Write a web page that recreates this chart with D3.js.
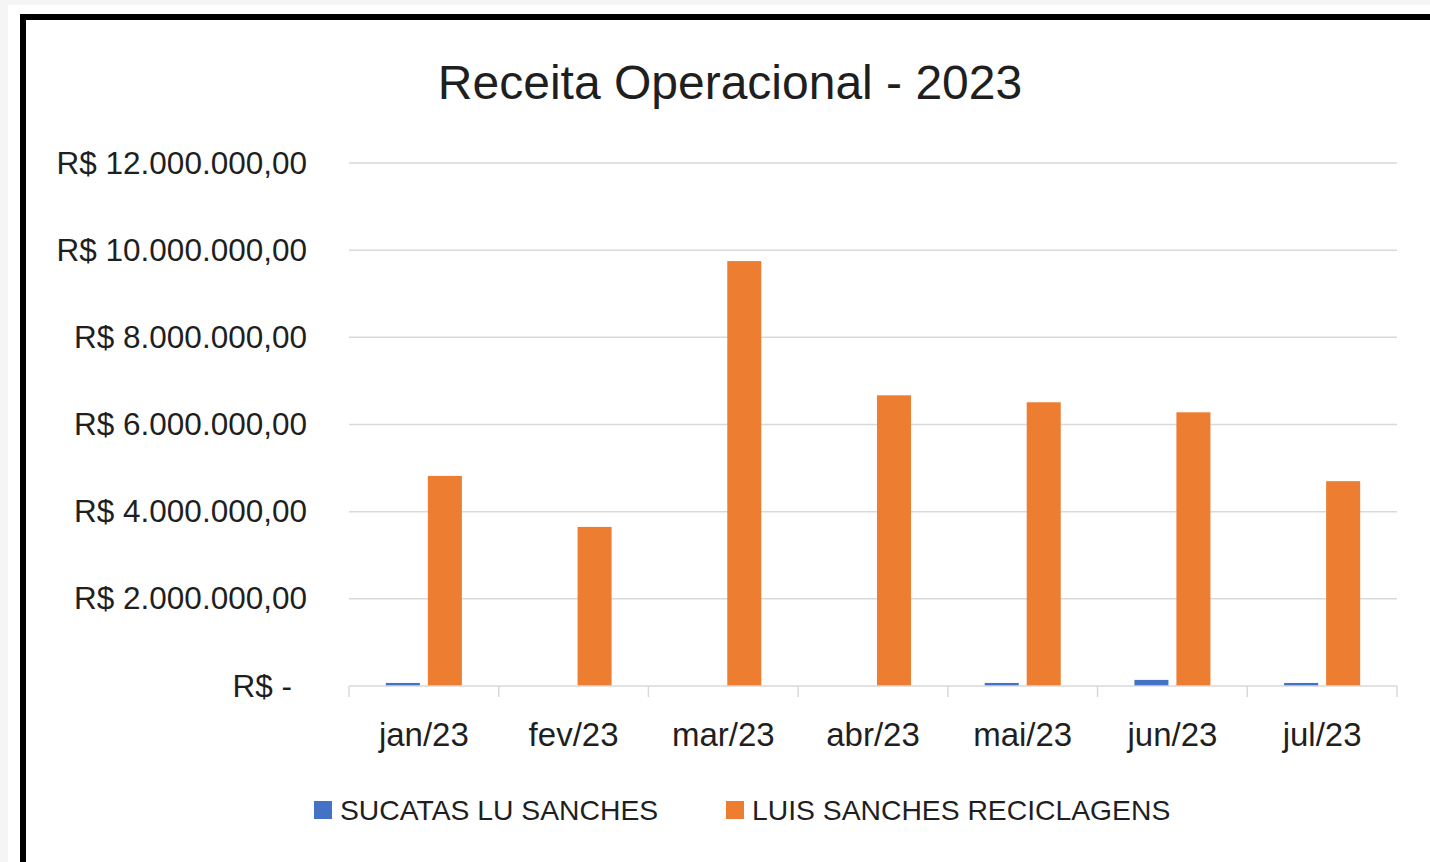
<!DOCTYPE html>
<html>
<head>
<meta charset="utf-8">
<script src="https://cdn.jsdelivr.net/npm/d3@7"></script>
<style>
  html, body { margin: 0; padding: 0; background: #f5f5f5; overflow: hidden; }
  svg { display: block; }
</style>
</head>
<body>
<div id="chart"></div>
<script>
// dados
const meses = ["jan/23", "fev/23", "mar/23", "abr/23", "mai/23", "jun/23", "jul/23"];
const series = ["SUCATAS LU SANCHES", "LUIS SANCHES RECICLAGENS"];
const sucatas = [70000, 0, 0, 0, 70000, 140000, 70000];
const reciclagens = [4820000, 3650000, 9750000, 6670000, 6510000, 6280000, 4700000];
const yTicks = [0, 2000000, 4000000, 6000000, 8000000, 10000000, 12000000];
const cores = ["#4472C4", "#ED7D31"];

const width = 1430;
const height = 862;
const marginTop = 163;
const marginRight = 33;
const marginBottom = 176;
const marginLeft = 349;

const data = meses.map((m, i) => ({ mes: m, valores: [sucatas[i], reciclagens[i]] }));

const locale = d3.formatLocale({ decimal: ",", thousands: ".", grouping: [3], currency: ["R$ ", ""] });
const fmt = locale.format("$,.2f");

const svg = d3.select("#chart")
  .append("svg")
    .attr("width", width)
    .attr("height", height)
    .attr("viewBox", [0, 0, width, height]);

// fundo branco e moldura preta
svg.append("rect")
  .attr("x", 8).attr("y", 5)
  .attr("width", width).attr("height", height)
  .attr("fill", "#fff");
svg.append("rect")
  .attr("x", 23).attr("y", 17)
  .attr("width", width + 20).attr("height", height + 20)
  .attr("fill", "none")
  .attr("stroke", "#000")
  .attr("stroke-width", 6);

const x = d3.scaleBand()
  .domain(meses)
  .range([marginLeft, width - marginRight]);

const xSub = d3.scaleBand()
  .domain(series)
  .range([0, x.bandwidth()])
  .paddingInner(0.19)
  .paddingOuter(0.877);

const y = d3.scaleLinear()
  .domain([0, 12000000])
  .range([height - marginBottom, marginTop]);

const font = "'Liberation Sans', Arial, sans-serif";
const corTexto = "#1f1f1f";

// título
svg.append("text")
  .attr("x", 730)
  .attr("y", 99)
  .attr("text-anchor", "middle")
  .attr("font-family", font)
  .attr("font-size", 48)
  .attr("fill", corTexto)
  .text("Receita Operacional - 2023");

// grade
svg.append("g")
  .selectAll("line")
  .data(yTicks.filter(d => d > 0))
  .join("line")
    .attr("x1", marginLeft)
    .attr("x2", width - marginRight)
    .attr("y1", d => y(d))
    .attr("y2", d => y(d))
    .attr("stroke", "#d9d9d9")
    .attr("stroke-width", 1.5);

// eixo y (somente rótulos)
svg.append("g")
  .attr("transform", `translate(${marginLeft - 42},0)`)
  .call(d3.axisLeft(y).tickValues(yTicks).tickSize(0).tickFormat(d => d === 0 ? "R$ -" : fmt(d)))
  .call(g => g.select(".domain").remove())
  .call(g => g.selectAll("text")
      .attr("font-family", font)
      .attr("font-size", 31.5)
      .attr("fill", corTexto)
      .attr("x", d => d === 0 ? -15 : 0));

// barras
svg.append("g")
  .selectAll("g")
  .data(data)
  .join("g")
    .attr("transform", d => `translate(${x(d.mes)},0)`)
  .selectAll("rect")
  .data(d => d.valores.map((v, i) => ({ serie: series[i], valor: v, i })))
  .join("rect")
    .attr("x", d => xSub(d.serie))
    .attr("width", xSub.bandwidth())
    .attr("y", d => y(d.valor))
    .attr("height", d => y(0) - y(d.valor))
    .attr("fill", d => cores[d.i]);

// eixo x
const xAxis = svg.append("g")
  .attr("transform", `translate(0,${y(0)})`);
xAxis.append("line")
  .attr("x1", marginLeft)
  .attr("x2", width - marginRight)
  .attr("stroke", "#d9d9d9")
  .attr("stroke-width", 1.5);
xAxis.selectAll(".tick-mark")
  .data(meses.concat(["fim"]))
  .join("line")
    .attr("class", "tick-mark")
    .attr("x1", (d, i) => marginLeft + i * x.step())
    .attr("x2", (d, i) => marginLeft + i * x.step())
    .attr("y1", 0)
    .attr("y2", 11)
    .attr("stroke", "#d9d9d9")
    .attr("stroke-width", 1.5);
xAxis.selectAll("text")
  .data(meses)
  .join("text")
    .attr("x", d => x(d) + x.bandwidth() / 2)
    .attr("y", 60)
    .attr("text-anchor", "middle")
    .attr("font-family", font)
    .attr("font-size", 33)
    .attr("fill", corTexto)
    .text(d => d);

// legenda
const legendaX = [314, 726];
const legenda = svg.append("g")
  .selectAll("g")
  .data(series)
  .join("g")
    .attr("transform", (d, i) => `translate(${legendaX[i]},801)`);
legenda.append("rect")
  .attr("width", 18)
  .attr("height", 18)
  .attr("fill", (d, i) => cores[i]);
legenda.append("text")
  .attr("x", 26)
  .attr("y", 9)
  .attr("dy", "0.35em")
  .attr("font-family", font)
  .attr("font-size", 28.3)
  .attr("fill", corTexto)
  .text(d => d);
</script>
</body>
</html>
